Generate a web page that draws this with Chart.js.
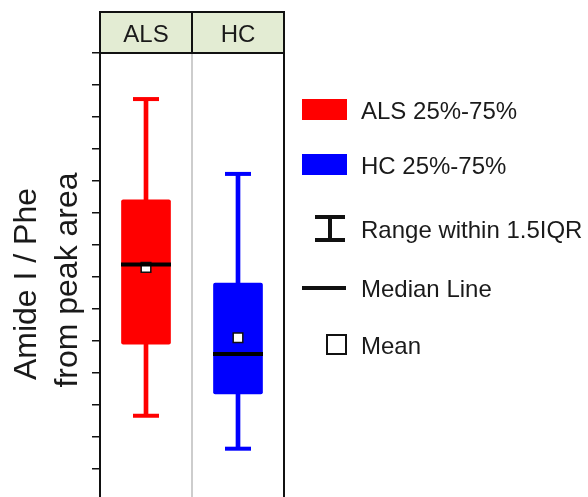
<!DOCTYPE html>
<html>
<head>
<meta charset="utf-8">
<script src="https://cdn.jsdelivr.net/npm/chart.js@4"></script>
<style>
  html, body { margin: 0; padding: 0; background: #fff; }
  #wrap { width: 588px; height: 497px; }
</style>
</head>
<body>
<div id="wrap"><canvas id="chart" width="588" height="497"></canvas></div>
<script>
// box plot values (axis has no labels, units are tick steps)
const groups = ['ALS', 'HC'];
const whiskerLow = [2.66, 1.63];
const whiskerHigh = [12.56, 10.22];
const q1 = [4.90, 3.34];
const q3 = [9.41, 6.81];
const medians = [7.39, 4.59];
const means = [7.30, 5.10];
const yTicks = [1, 2, 3, 4, 5, 6, 7, 8, 9, 10, 11, 12, 13, 14];

const groupColors = ['#ff0000', '#0000ff'];
const FONT = "'Liberation Sans', Arial, sans-serif";
const TEXT = '#1a1a1a';

const legendItems = [
    { label: 'ALS 25%-75%', kind: 'box', color: groupColors[0] },
    { label: 'HC 25%-75%', kind: 'box', color: groupColors[1] },
    { label: 'Range within 1.5IQR', kind: 'range' },
    { label: 'Median Line', kind: 'median' },
    { label: 'Mean', kind: 'mean' }
];

const decorations = {
    id: 'decorations',
    beforeDatasetsDraw(chart) {
        const { ctx, chartArea, scales } = chart;
        const mid = (scales.x.getPixelForValue(0) + scales.x.getPixelForValue(1)) / 2;
        ctx.save();
        ctx.strokeStyle = '#bdbdbd';
        ctx.lineWidth = 1.5;
        ctx.beginPath();
        ctx.moveTo(mid, chartArea.top);
        ctx.lineTo(mid, chartArea.bottom);
        ctx.stroke();
        ctx.restore();
    },
    afterDraw(chart) {
        const { ctx, chartArea, scales } = chart;
        const left = chartArea.left, right = chartArea.right;
        const top = 12, bottom = chartArea.top;
        const mid = (scales.x.getPixelForValue(0) + scales.x.getPixelForValue(1)) / 2;
        ctx.save();

        // panel header strip
        ctx.fillStyle = '#e3ecd3';
        ctx.fillRect(left, top, right - left, bottom - top);
        ctx.strokeStyle = '#111';
        ctx.lineWidth = 2;
        ctx.strokeRect(left, top, right - left, bottom - top);
        ctx.beginPath();
        ctx.moveTo(mid, top);
        ctx.lineTo(mid, bottom);
        ctx.stroke();
        // right frame line
        ctx.beginPath();
        ctx.moveTo(right, bottom);
        ctx.lineTo(right, chartArea.bottom);
        ctx.stroke();

        ctx.fillStyle = TEXT;
        ctx.font = '24px ' + FONT;
        ctx.textAlign = 'center';
        ctx.textBaseline = 'alphabetic';
        groups.forEach((g, i) => {
            ctx.fillText(g, scales.x.getPixelForValue(i), 42);
        });

        // y axis title, two lines
        ctx.font = '32px ' + FONT;
        ctx.save();
        ctx.translate(36, 284);
        ctx.rotate(-Math.PI / 2);
        ctx.fillText('Amide I / Phe', 0, 0);
        ctx.restore();
        ctx.save();
        ctx.translate(77, 280);
        ctx.rotate(-Math.PI / 2);
        ctx.fillText('from peak area', 0, 0);
        ctx.restore();

        // legend
        const rowY = [110, 165, 229, 288, 345];
        ctx.font = '24px ' + FONT;
        ctx.textAlign = 'left';
        ctx.textBaseline = 'middle';
        legendItems.forEach((item, i) => {
            const y = rowY[i];
            ctx.strokeStyle = '#111';
            if (item.kind === 'box') {
                ctx.fillStyle = item.color;
                ctx.fillRect(302, y - 11, 45, 21);
            } else if (item.kind === 'range') {
                ctx.lineWidth = 4;
                ctx.beginPath();
                ctx.moveTo(315, y - 12); ctx.lineTo(345, y - 12);
                ctx.moveTo(330, y - 12); ctx.lineTo(330, y + 11);
                ctx.moveTo(315, y + 11); ctx.lineTo(345, y + 11);
                ctx.stroke();
            } else if (item.kind === 'median') {
                ctx.lineWidth = 4;
                ctx.beginPath();
                ctx.moveTo(302, y); ctx.lineTo(346, y);
                ctx.stroke();
            } else {
                ctx.lineWidth = 2;
                ctx.fillStyle = '#fff';
                ctx.fillRect(327, y - 10, 19, 19);
                ctx.strokeRect(327, y - 10, 19, 19);
            }
            ctx.fillStyle = TEXT;
            ctx.fillText(item.label, 361, y + 2);
        });
        ctx.restore();
    }
};

new Chart(document.getElementById('chart'), {
    data: {
        labels: groups,
        datasets: [
            {
                type: 'line', label: 'Median', data: medians, order: 0,
                showLine: false, pointStyle: 'line', pointRadius: 25,
                pointBorderWidth: 4, pointBorderColor: '#000'
            },
            {
                type: 'line', label: 'Mean', data: means, order: 1,
                showLine: false, pointStyle: 'rect', pointRadius: 6.8,
                pointBorderWidth: 1.5, pointBorderColor: '#111', pointBackgroundColor: '#fff'
            },
            {
                type: 'bar', label: '25%-75%', order: 2, grouped: false,
                data: groups.map((g, i) => [q1[i], q3[i]]),
                backgroundColor: groupColors, barThickness: 49,
                borderRadius: 2, borderSkipped: false
            },
            {
                type: 'line', label: 'Upper cap', data: whiskerHigh, order: 3,
                showLine: false, pointStyle: 'line', pointRadius: 13,
                pointBorderWidth: 4, pointBorderColor: groupColors
            },
            {
                type: 'line', label: 'Lower cap', data: whiskerLow, order: 3,
                showLine: false, pointStyle: 'line', pointRadius: 13,
                pointBorderWidth: 4, pointBorderColor: groupColors
            },
            {
                type: 'bar', label: 'Whisker', order: 4, grouped: false,
                data: groups.map((g, i) => [whiskerLow[i], whiskerHigh[i]]),
                backgroundColor: groupColors, barThickness: 4
            }
        ]
    },
    options: {
        responsive: false,
        animation: false,
        events: [],
        layout: { autoPadding: false, padding: { top: 53, right: 304, bottom: 0, left: 0 } },
        plugins: { legend: { display: false }, tooltip: { enabled: false } },
        scales: {
            x: { type: 'category', display: false, offset: true },
            y: {
                min: 0.12, max: 14,
                afterBuildTicks: s => { s.ticks = yTicks.map(v => ({ value: v })); },
                afterFit: s => { s.width = 100; },
                ticks: { display: false },
                grid: { drawOnChartArea: false, drawTicks: true, tickLength: 8, color: '#111', lineWidth: 1.5 },
                border: { display: true, color: '#111', width: 2 }
            }
        }
    },
    plugins: [decorations]
});
</script>
</body>
</html>
